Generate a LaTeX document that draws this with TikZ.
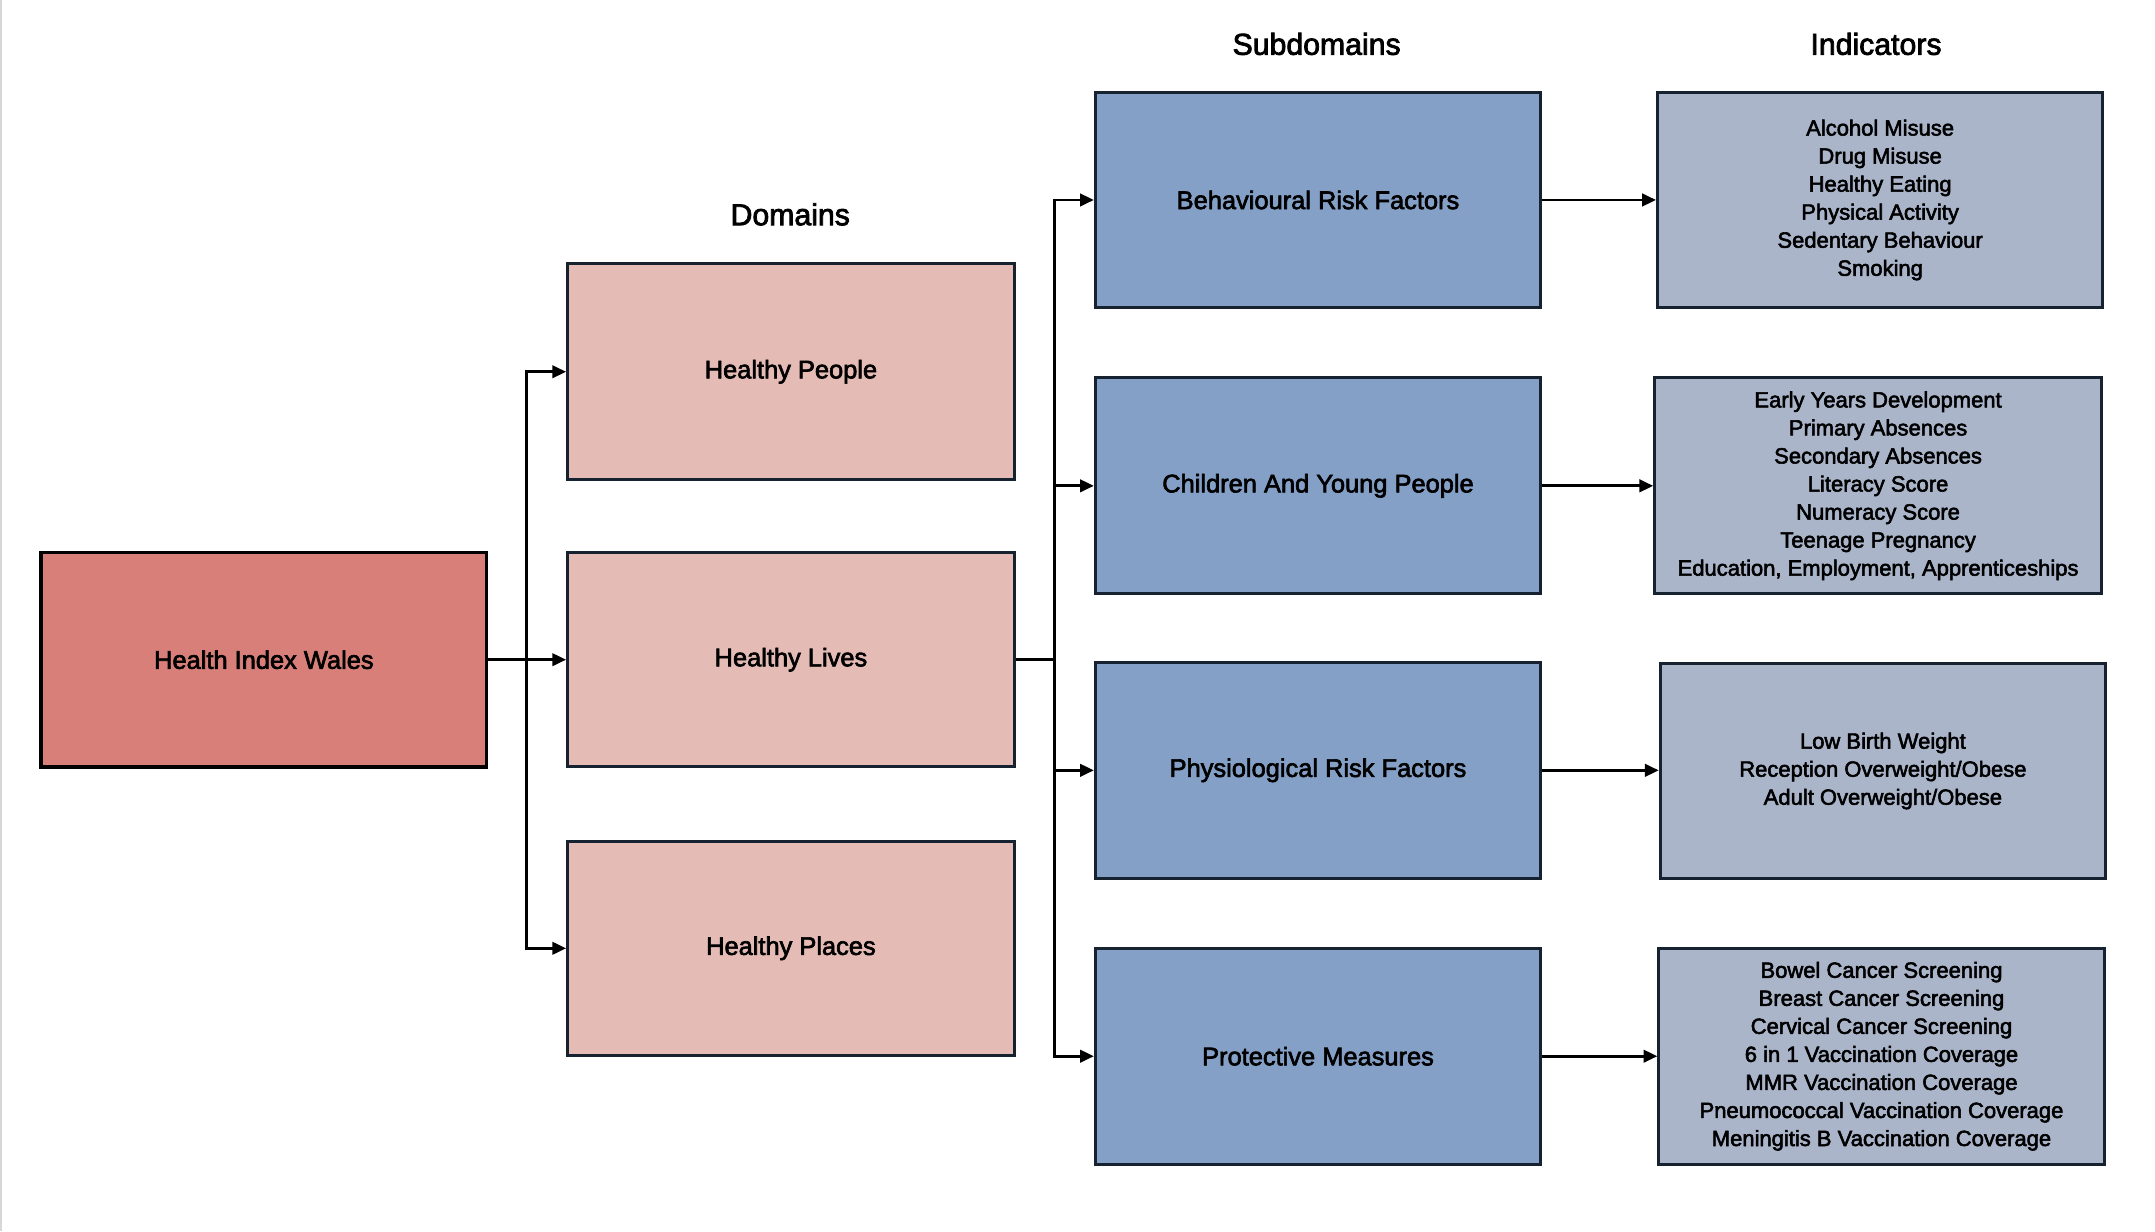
\documentclass[tikz,border=0pt]{standalone}
\usepackage{fontspec}
\setmainfont{Liberation Sans}
\newfontfamily\heavyfont{Liberation Sans}[FakeBold=2.5]
\usetikzlibrary{arrows.meta}
\definecolor{hiwfill}{RGB}{215,127,120}
\definecolor{domfill}{RGB}{229,187,182}
\definecolor{subfill}{RGB}{132,160,199}
\definecolor{indfill}{RGB}{170,181,202}
\definecolor{navy}{RGB}{22,34,48}
\definecolor{edgegray}{RGB}{215,215,215}
\tikzset{
  box/.style={draw=navy, line width=2.2pt, anchor=center, inner sep=0pt,
    align=center, font=\heavyfont\fontsize{18.5}{22}\selectfont},
  rootbox/.style={box, draw=black, line width=2.8pt, fill=hiwfill},
  dombox/.style={box, fill=domfill},
  subbox/.style={box, fill=subfill},
  indbox/.style={box, fill=indfill, font=\heavyfont\fontsize{16}{20.4}\selectfont},
  header/.style={font=\heavyfont\fontsize{22}{26}\selectfont, inner sep=0pt},
  conn/.style={line width=2pt, black},
  arr/.style={conn, -{Triangle[length=10pt,width=9pt]}}
}
\begin{document}
\begin{tikzpicture}[x=1pt,y=-1pt]
\useasboundingbox (0,0) rectangle (1568,896);
\fill[white] (0,0) rectangle (1568,896);
\draw[edgegray, line width=1.5pt] (0.75,0) -- (0.75,896);

% headers
\node[header] (hdom) at (575,156) {Domains};
\node[header] (hsub) at (958,32) {Subdomains};
\node[header] (hind) at (1365,32) {Indicators};

% root
\node[rootbox, minimum width=324pt, minimum height=156pt] (hiw) at (192,480) {Health Index Wales};

% domains
\node[dombox, minimum width=325pt, minimum height=157pt] (hp) at (575.5,270.5) {Healthy People};
\node[dombox, minimum width=325pt, minimum height=156pt] (hl) at (575.5,480) {Healthy Lives};
\node[dombox, minimum width=325pt, minimum height=156pt] (hpl) at (575.5,690) {Healthy Places};

% subdomains
\node[subbox, minimum width=324pt, minimum height=156pt] (brf) at (959,145.5) {Behavioural Risk Factors};
\node[subbox, minimum width=324pt, minimum height=157pt] (cyp) at (959,353.5) {Children And Young People};
\node[subbox, minimum width=324pt, minimum height=157pt] (prf) at (959,560.5) {Physiological Risk Factors};
\node[subbox, minimum width=324pt, minimum height=157pt] (pm) at (959,768.5) {Protective Measures};

% indicators
\node[indbox, minimum width=324pt, minimum height=157pt] (i1) at (1368,145.5)
  {Alcohol Misuse\\Drug Misuse\\Healthy Eating\\Physical Activity\\Sedentary Behaviour\\Smoking};
\node[indbox, minimum width=325pt, minimum height=157pt] (i2) at (1366.5,353.5)
  {Early Years Development\\Primary Absences\\Secondary Absences\\Literacy Score\\Numeracy Score\\Teenage Pregnancy\\Education, Employment, Apprenticeships};
\node[indbox, minimum width=324pt, minimum height=156pt] (i3) at (1370,561)
  {Low Birth Weight\\Reception Overweight/Obese\\Adult Overweight/Obese};
\node[indbox, minimum width=324pt, minimum height=157pt] (i4) at (1369,768.5)
  {Bowel Cancer Screening\\Breast Cancer Screening\\Cervical Cancer Screening\\6 in 1 Vaccination Coverage\\MMR Vaccination Coverage\\Pneumococcal Vaccination Coverage\\Meningitis B Vaccination Coverage};

% root -> domains
\coordinate (t1) at (383,0);
\coordinate (j1) at (hiw.east -| t1);
\draw[conn] (hiw.east) -- (j1);
\draw[arr] (j1) |- (hp.west);
\draw[arr] (j1) -- (hl.west);
\draw[arr] (j1) |- (hpl.west);

% healthy lives -> subdomains
\coordinate (t2) at (767,0);
\coordinate (j2) at (hl.east -| t2);
\draw[conn] (hl.east) -- (j2);
\draw[arr] (j2) |- (brf.west);
\draw[arr] (j2) |- (cyp.west);
\draw[arr] (j2) |- (prf.west);
\draw[arr] (j2) |- (pm.west);

% subdomains -> indicators
\draw[arr] (brf.east) -- (brf.east -| i1.west);
\draw[arr] (cyp.east) -- (cyp.east -| i2.west);
\draw[arr] (prf.east) -- (prf.east -| i3.west);
\draw[arr] (pm.east) -- (pm.east -| i4.west);
\end{tikzpicture}
\end{document}
